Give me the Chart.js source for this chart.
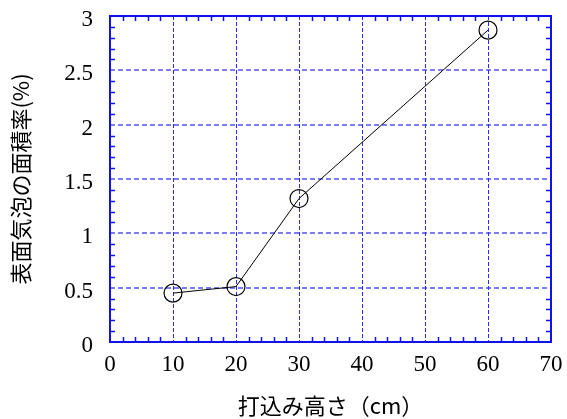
<!DOCTYPE html>
<html>
<head>
<meta charset="utf-8">
<script src="https://cdn.jsdelivr.net/npm/chart.js@4/dist/chart.umd.min.js"></script>
<style>
  html, body { margin: 0; padding: 0; background: #fff; }
  #wrap { width: 567px; height: 419px; }
</style>
</head>
<body>
<div id="wrap"><canvas id="c" width="567" height="419"></canvas></div>
<script>
const heights = [10, 20, 30, 60];
const areaRatio = [0.45, 0.51, 1.32, 2.87];
const xTicks = [0, 10, 20, 30, 40, 50, 60, 70];
const yTicks = [0, 0.5, 1, 1.5, 2, 2.5, 3];
const xTitle = "打込み高さ（cm）";
const yTitle = "表面気泡の面積率(%)";

const BLUE = "#1010f0";
const TICK_FONT = { family: "'Liberation Serif', 'DejaVu Serif', serif", size: 23 };
const TITLE_FONT = { family: "'Noto Sans CJK JP', sans-serif", size: 22 };

// dashed grid, frame on all four sides, inward minor ticks
const framePlugin = {
  id: "frame",
  beforeDatasetsDraw(chart) {
    const { ctx, chartArea: a, scales } = chart;
    ctx.save();
    ctx.lineWidth = 1;
    ctx.strokeStyle = "#2a2aff";
    ctx.setLineDash([4, 2]);
    ctx.beginPath();
    xTicks.forEach((v) => {
      const x = Math.round(scales.x.getPixelForValue(v)) + 0.5;
      ctx.moveTo(x, a.top); ctx.lineTo(x, a.bottom);
    });
    ctx.stroke();
    ctx.lineWidth = 1.6;
    ctx.strokeStyle = "rgba(50,50,240,0.85)";
    ctx.setLineDash([5, 3]);
    ctx.beginPath();
    yTicks.forEach((v) => {
      const y = Math.round(scales.y.getPixelForValue(v));
      ctx.moveTo(a.left, y); ctx.lineTo(a.right, y);
    });
    ctx.stroke();
    ctx.restore();
  },
  afterDatasetsDraw(chart) {
    const { ctx, chartArea: a, scales } = chart;
    ctx.save();
    ctx.strokeStyle = BLUE;
    ctx.lineWidth = 1.5;
    ctx.beginPath();
    for (let v = 0; v <= 70; v += 2) {
      if (v % 10 === 0) continue;
      const x = Math.round(scales.x.getPixelForValue(v)) + 0.5;
      ctx.moveTo(x, a.bottom); ctx.lineTo(x, a.bottom - 5);
      ctx.moveTo(x, a.top); ctx.lineTo(x, a.top + 5);
    }
    for (let i = 0; i <= 30; i++) {
      if (i % 5 === 0) continue;
      const y = Math.round(scales.y.getPixelForValue(i / 10)) + 0.5;
      ctx.moveTo(a.left, y); ctx.lineTo(a.left + 5, y);
      ctx.moveTo(a.right, y); ctx.lineTo(a.right - 5, y);
    }
    ctx.stroke();
    ctx.lineWidth = 2;
    ctx.strokeRect(a.left, a.top, a.right - a.left, a.bottom - a.top);
    ctx.restore();
  },
};

new Chart(document.getElementById("c"), {
  type: "line",
  data: {
    datasets: [{
      data: heights.map((h, i) => ({ x: h, y: areaRatio[i] })),
      borderColor: "#000",
      borderWidth: 1,
      pointRadius: 9,
      pointBorderWidth: 1.2,
      pointBackgroundColor: "transparent",
      pointBorderColor: "#000",
      tension: 0,
    }],
  },
  options: {
    responsive: false,
    animation: false,
    layout: { padding: { top: 16, right: 16, left: 0, bottom: 0 } },
    plugins: { legend: { display: false }, tooltip: { enabled: false } },
    scales: {
      x: {
        type: "linear",
        min: 0,
        max: 70,
        afterFit(s) { s.height = 77; s.paddingLeft = 0; s.paddingRight = 0; },
        afterBuildTicks(s) { s.ticks = xTicks.map((value) => ({ value })); },
        ticks: { color: "#000", font: TICK_FONT, padding: 9, maxRotation: 0 },
        grid: { display: false, drawTicks: false },
        border: { display: false },
        title: { display: true, text: xTitle, color: "#000", font: TITLE_FONT, padding: { top: 0, bottom: 0 } },
      },
      y: {
        min: 0,
        max: 3,
        afterFit(s) { s.width = 110; s.paddingTop = 0; s.paddingBottom = 0; },
        afterBuildTicks(s) { s.ticks = yTicks.map((value) => ({ value })); },
        ticks: { color: "#000", font: TICK_FONT, padding: 17, labelOffset: 4, callback: (v) => String(v) },
        grid: { display: false, drawTicks: false },
        border: { display: false },
        title: { display: true, text: yTitle, color: "#000", font: TITLE_FONT, padding: { top: 7, bottom: 0 } },
      },
    },
  },
  plugins: [framePlugin],
});
</script>
</body>
</html>
